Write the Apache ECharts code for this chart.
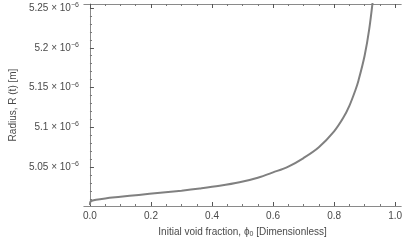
<!DOCTYPE html>
<html>
<head>
<meta charset="utf-8">
<script src="https://cdn.jsdelivr.net/npm/echarts@6/dist/echarts.min.js"></script>
<style>
  html, body { margin: 0; padding: 0; background: #fff; }
  #chart { width: 405px; height: 243px; }
</style>
</head>
<body>
<div id="chart"></div>
<script>
// initial void fraction phi0 (x) and bubble radius R(t) in units of 1e-6 m (y)
const phi0 = [0, 0.001, 0.006, 0.02, 0.05, 0.1, 0.16, 0.23, 0.3, 0.36, 0.425, 0.49, 0.55, 0.6, 0.65, 0.7, 0.75, 0.8, 0.83, 0.85, 0.87, 0.88, 0.9, 0.915, 0.93];
const radius = [5.0025, 5.0062, 5.0078, 5.0092, 5.0108, 5.0128, 5.0152, 5.0178, 5.0205, 5.0232, 5.0266, 5.031, 5.0368, 5.0435, 5.0508, 5.0615, 5.075, 5.095, 5.112, 5.127, 5.147, 5.159, 5.19, 5.223, 5.27];

const xMajor = [0, 0.2, 0.4, 0.6, 0.8, 1.0];
const xMinor = [0.05, 0.1, 0.15, 0.25, 0.3, 0.35, 0.45, 0.5, 0.55, 0.65, 0.7, 0.75, 0.85, 0.9, 0.95];
const yMajor = [5.05, 5.1, 5.15, 5.2, 5.25];
const yMinor = [5.01, 5.02, 5.03, 5.04, 5.06, 5.07, 5.08, 5.09, 5.11, 5.12, 5.13, 5.14, 5.16, 5.17, 5.18, 5.19, 5.21, 5.22, 5.23, 5.24];

const font = 'Liberation Sans';
const textColor = '#4a4a4a';
const xRange = { min: -0.02, max: 1.02 };
const yRange = { min: 5.00125, max: 5.255 };

function frameAxis(extra) {
  return Object.assign({
    type: 'value',
    axisLine: { show: false },
    splitLine: { show: false },
    axisLabel: { show: false },
    axisTick: { show: false }
  }, extra);
}

const chart = echarts.init(document.getElementById('chart'));
chart.setOption({
  animation: false,
  backgroundColor: '#fff',
  grid: { left: 80, right: -3, top: 4, bottom: 36, containLabel: false },
  xAxis: [
    frameAxis(Object.assign({}, xRange, {
      position: 'bottom',
      axisLine: { show: true, lineStyle: { color: '#8a8a8a', width: 1 } },
      axisTick: { show: true, inside: true, length: 4, customValues: xMajor, lineStyle: { color: '#555' } },
      axisLabel: {
        show: true, customValues: xMajor, color: textColor, fontSize: 10, fontFamily: font, margin: 5,
        formatter: v => v.toFixed(1)
      },
      name: '{a|Initial void fraction, ϕ}{s|0}{a| [Dimensionless]}',
      nameLocation: 'middle', nameGap: 20,
      nameTextStyle: {
        rich: {
          a: { fontSize: 10, fontFamily: font, color: textColor },
          s: { fontSize: 7, fontFamily: font, color: textColor, padding: [5, 0, 0, 0] }
        }
      }
    })),
    frameAxis(Object.assign({}, xRange, {
      position: 'bottom',
      axisTick: { show: true, inside: true, length: 2, customValues: xMinor, lineStyle: { color: '#777' } }
    })),
    frameAxis(Object.assign({}, xRange, {
      position: 'top',
      axisLine: { show: true, lineStyle: { color: '#8a8a8a', width: 1 } },
      axisTick: { show: true, inside: true, length: 4, customValues: xMajor, lineStyle: { color: '#555' } }
    })),
    frameAxis(Object.assign({}, xRange, {
      position: 'top',
      axisTick: { show: true, inside: true, length: 2, customValues: xMinor, lineStyle: { color: '#777' } }
    }))
  ],
  yAxis: [
    frameAxis(Object.assign({}, yRange, {
      position: 'left',
      axisLine: { show: true, lineStyle: { color: '#8a8a8a', width: 1 } },
      axisTick: { show: true, inside: true, length: 4, customValues: yMajor, lineStyle: { color: '#555' } },
      axisLabel: {
        show: true, customValues: yMajor, margin: 5,
        formatter: v => '{b|' + (+v.toFixed(2)) + ' × 10}{s|−6}',
        rich: {
          b: { fontSize: 10, fontFamily: font, color: textColor },
          s: { fontSize: 7, fontFamily: font, color: textColor, padding: [0, 0, 6, 0] }
        }
      },
      name: 'Radius, R (t) [m]',
      nameLocation: 'middle', nameGap: 61,
      nameTextStyle: { fontSize: 10, fontFamily: font, color: textColor }
    })),
    frameAxis(Object.assign({}, yRange, {
      position: 'left',
      axisTick: { show: true, inside: true, length: 2, customValues: yMinor, lineStyle: { color: '#777' } }
    }))
  ],
  series: [{
    type: 'line',
    xAxisIndex: 0,
    yAxisIndex: 0,
    data: phi0.map((x, i) => [x, radius[i]]),
    smooth: 0.35,
    showSymbol: false,
    clip: true,
    lineStyle: { color: '#808080', width: 2 }
  }]
});
</script>
</body>
</html>
